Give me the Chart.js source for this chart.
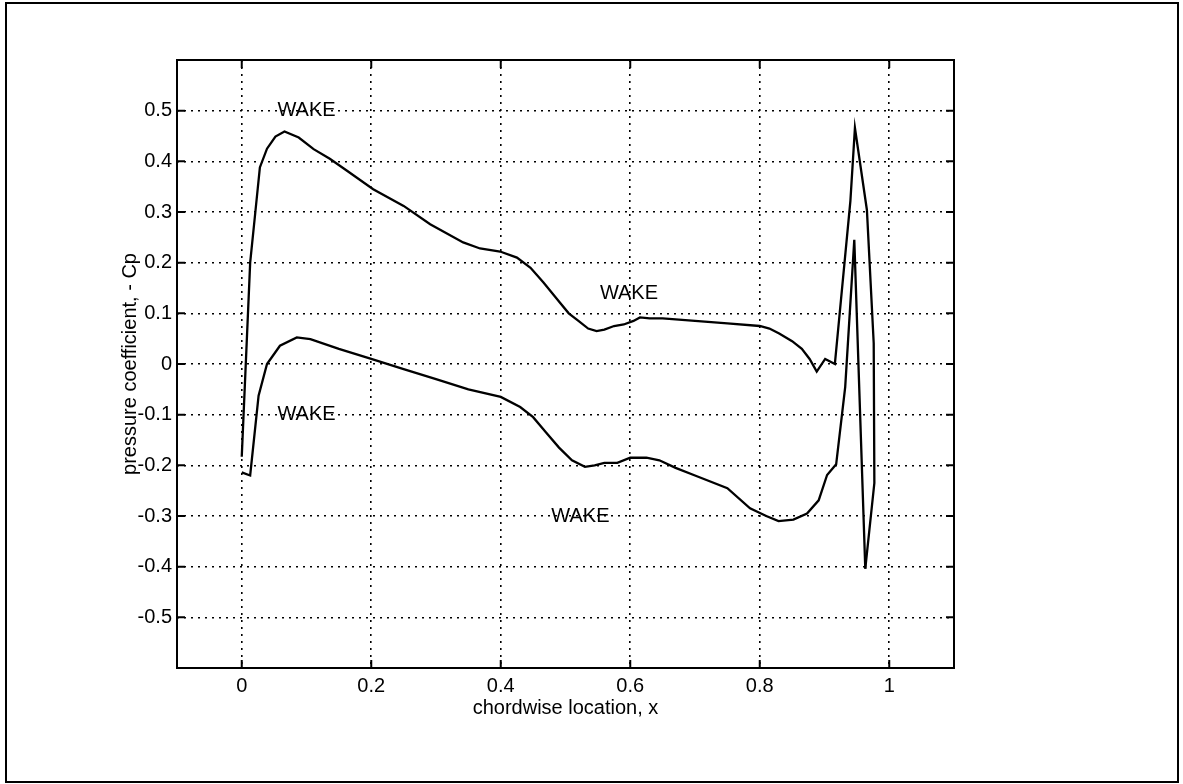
<!DOCTYPE html>
<html>
<head>
<meta charset="utf-8">
<script src="https://cdn.jsdelivr.net/npm/chart.js@4.4.1/dist/chart.umd.min.js"></script>
<style>
  html, body { margin: 0; padding: 0; background: #fff; }
  canvas { display: block; }
</style>
</head>
<body>
<canvas id="cpChart" width="1183" height="784"></canvas>
<script>
// upper curve (x, -Cp), runs left to right then round the trailing spike
const upperX = [0, 0.013, 0.021, 0.028, 0.039, 0.052, 0.066, 0.088, 0.111, 0.136, 0.162, 0.203, 0.25, 0.291, 0.342, 0.368,
                0.399, 0.425, 0.446, 0.466, 0.489, 0.505, 0.52, 0.535, 0.548, 0.56, 0.575, 0.59, 0.605, 0.615, 0.63, 0.65,
                0.7, 0.75, 0.8, 0.815, 0.83, 0.85, 0.865, 0.877, 0.888, 0.901, 0.916, 0.94, 0.947, 0.9655, 0.976, 0.977, 0.963];
const upperY = [-0.183, 0.2, 0.3, 0.388, 0.425, 0.449, 0.459, 0.447, 0.424, 0.405, 0.382, 0.345, 0.312, 0.276, 0.24, 0.228,
                0.222, 0.21, 0.19, 0.161, 0.125, 0.1, 0.085, 0.07, 0.065, 0.068, 0.075, 0.078, 0.085, 0.092, 0.09, 0.09,
                0.085, 0.08, 0.075, 0.07, 0.06, 0.045, 0.03, 0.01, -0.015, 0.01, 0.0, 0.322, 0.466, 0.304, 0.041, -0.235, -0.404];

// lower curve
const lowerX = [0, 0.013, 0.026, 0.039, 0.059, 0.085, 0.106, 0.15, 0.2, 0.25, 0.3, 0.35, 0.4, 0.43, 0.45, 0.47, 0.49,
                0.51, 0.53, 0.545, 0.56, 0.58, 0.6, 0.625, 0.645, 0.67, 0.7, 0.75, 0.785, 0.81, 0.829, 0.852, 0.873,
                0.891, 0.904, 0.918, 0.932, 0.946, 0.963];
const lowerY = [-0.214, -0.22, -0.0625, 0.0, 0.036, 0.0526, 0.049, 0.03, 0.01, -0.01, -0.03, -0.05, -0.065, -0.085, -0.105, -0.135, -0.165,
                -0.19, -0.203, -0.2, -0.195, -0.195, -0.185, -0.185, -0.19, -0.205, -0.22, -0.245, -0.285, -0.3, -0.31, -0.307, -0.295,
                -0.269, -0.219, -0.198, -0.045, 0.245, -0.404];

// axis ticks
const xTicks = [0, 0.2, 0.4, 0.6, 0.8, 1];
const xTickLabels = ['0', '0.2', '0.4', '0.6', '0.8', '1'];
const yTicks = [-0.5, -0.4, -0.3, -0.2, -0.1, 0, 0.1, 0.2, 0.3, 0.4, 0.5];
const yTickLabels = ['-0.5', '-0.4', '-0.3', '-0.2', '-0.1', '0', '0.1', '0.2', '0.3', '0.4', '0.5'];

// text labels on the plot
const wakeText = ['WAKE', 'WAKE', 'WAKE', 'WAKE'];
const wakeX = [0.1, 0.598, 0.1, 0.523];
const wakeY = [0.5, 0.14, -0.1, -0.3];

const toPoints = (xs, ys) => xs.map((x, i) => ({ x: x, y: ys[i] }));

Chart.defaults.font.family = '"Liberation Sans", Arial, sans-serif';
Chart.defaults.font.size = 20;
Chart.defaults.color = '#000';

// white page, outer frame, plot box, inward ticks, WAKE labels
const framePlugin = {
    id: 'frame',
    beforeDraw(chart) {
        const c = chart.ctx;
        c.save();
        c.fillStyle = '#fff';
        c.fillRect(0, 0, chart.width, chart.height);
        c.restore();
    },
    afterDatasetsDraw(chart) {
        const c = chart.ctx;
        const a = chart.chartArea;
        const xs = chart.scales.x, ys = chart.scales.y;
        c.save();
        c.strokeStyle = '#000';
        c.lineWidth = 2;
        c.strokeRect(6, 3, 1172, 779);
        c.strokeRect(a.left, a.top, a.right - a.left, a.bottom - a.top);

        c.beginPath();
        xTicks.forEach(v => {
            const px = xs.getPixelForValue(v);
            c.moveTo(px, a.bottom); c.lineTo(px, a.bottom - 8);
            c.moveTo(px, a.top); c.lineTo(px, a.top + 8);
        });
        yTicks.forEach(v => {
            const py = ys.getPixelForValue(v);
            c.moveTo(a.left, py); c.lineTo(a.left + 8, py);
            c.moveTo(a.right, py); c.lineTo(a.right - 8, py);
        });
        c.stroke();

        c.fillStyle = '#000';
        c.font = '20px "Liberation Sans", Arial, sans-serif';
        c.textAlign = 'center';
        c.textBaseline = 'middle';
        wakeText.forEach((t, i) => {
            c.fillText(t, xs.getPixelForValue(wakeX[i]), ys.getPixelForValue(wakeY[i]));
        });
        c.restore();
    }
};

const ctx = document.getElementById('cpChart').getContext('2d');

const lineStyle = {
    showLine: true,
    borderColor: '#000',
    borderWidth: 2.3,
    pointRadius: 0,
    tension: 0,
    fill: false
};

new Chart(ctx, {
    type: 'scatter',
    data: {
        datasets: [
            { label: 'upper', data: toPoints(upperX, upperY), ...lineStyle },
            { label: 'lower', data: toPoints(lowerX, lowerY), ...lineStyle }
        ]
    },
    options: {
        responsive: false,
        animation: false,
        devicePixelRatio: 1,
        layout: { padding: { left: 118, right: 229, top: 60, bottom: 64 } },
        plugins: {
            legend: { display: false },
            tooltip: { enabled: false }
        },
        scales: {
            x: {
                type: 'linear',
                min: -0.1,
                max: 1.1,
                afterBuildTicks: s => { s.ticks = xTicks.map(v => ({ value: v })); },
                afterFit: s => { s.height = 52; },
                ticks: {
                    padding: 6,
                    maxRotation: 0,
                    callback: (v, i) => xTickLabels[i]
                },
                grid: { color: '#000', lineWidth: 1.6, drawTicks: false },
                border: { display: false, dash: [2, 5] },
                title: {
                    display: true,
                    text: 'chordwise location, x',
                    padding: 0
                }
            },
            y: {
                type: 'linear',
                min: -0.6,
                max: 0.6,
                afterBuildTicks: s => { s.ticks = yTicks.map(v => ({ value: v })); },
                afterFit: s => { s.width = 59; },
                ticks: {
                    padding: 5,
                    callback: (v, i) => yTickLabels[i]
                },
                grid: { color: '#000', lineWidth: 1.6, drawTicks: false },
                border: { display: false, dash: [2, 5] },
                title: {
                    display: true,
                    text: 'pressure coefficient, - Cp',
                    padding: 0
                }
            }
        }
    },
    plugins: [framePlugin]
});
</script>
</body>
</html>
